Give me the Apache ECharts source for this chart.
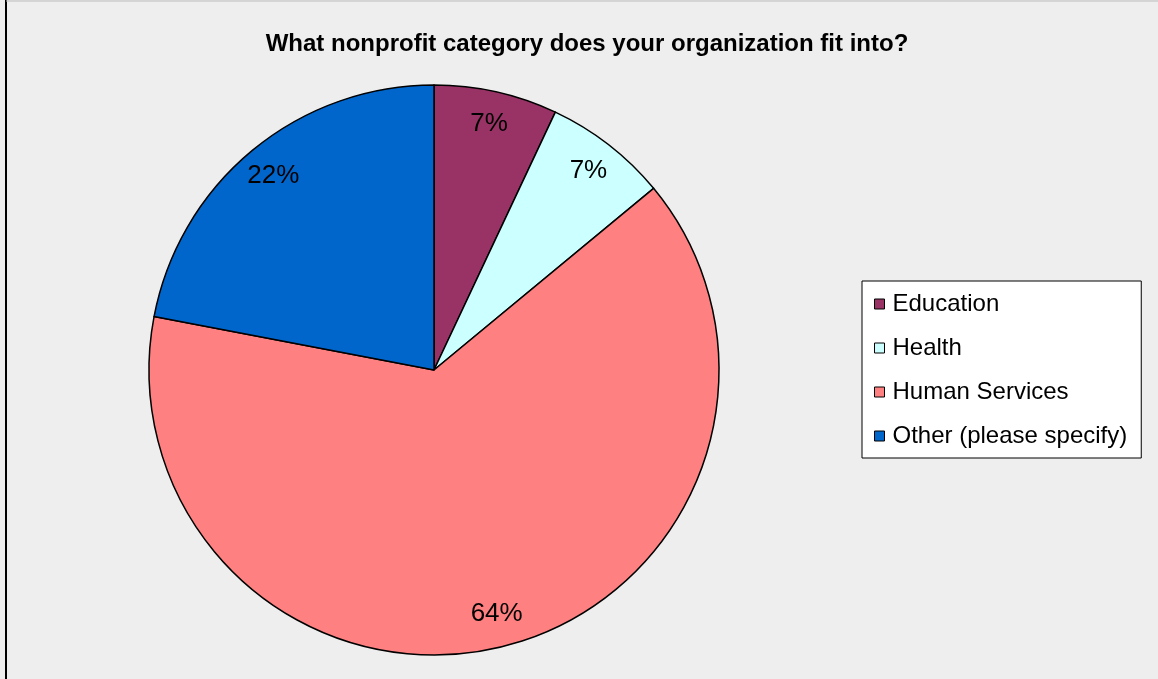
<!DOCTYPE html>
<html>
<head>
<meta charset="utf-8">
<title>Nonprofit category</title>
<script src="https://cdn.jsdelivr.net/npm/echarts@6/dist/echarts.min.js"></script>
<style>
  html, body { margin: 0; padding: 0; background: #eeeeee; }
  #chart { width: 1158px; height: 679px; }
</style>
</head>
<body>
<div id="chart"></div>
<script>
// 数据
const categories = ['Education', 'Health', 'Human Services', 'Other (please specify)']
const percents = [7, 7, 64, 22]
const colors = ['#993366', '#ccffff', '#ff8080', '#0066cc']

const pieData = categories.map((name, i) => ({
  name: name,
  value: percents[i],
  itemStyle: { color: colors[i] }
}))

const myChart = echarts.init(document.getElementById('chart'))
myChart.setOption({
  backgroundColor: '#eeeeee',
  animation: false,
  title: {
    text: 'What nonprofit category does your organization fit into?',
    left: 582,
    top: 27,
    textAlign: 'center',
    textStyle: {
      fontFamily: 'Liberation Sans',
      fontSize: 24,
      fontWeight: 'bold',
      color: '#000'
    }
  },
  legend: {
    orient: 'vertical',
    left: 862,
    top: 281,
    data: categories,
    icon: 'rect',
    itemWidth: 10,
    itemHeight: 10,
    itemGap: 20,
    padding: [11, 14, 10, 12],
    backgroundColor: '#fff',
    borderColor: '#000',
    borderWidth: 1,
    itemStyle: { borderColor: '#000', borderWidth: 1 },
    textStyle: {
      fontFamily: 'Liberation Sans',
      fontSize: 24,
      lineHeight: 22,
      color: '#000',
      padding: [0, 0, 0, 3]
    }
  },
  graphic: [
    { type: 'line', shape: { x1: 6, y1: 0, x2: 6, y2: 679 }, style: { stroke: '#000', lineWidth: 2 } },
    { type: 'line', shape: { x1: 6, y1: 1, x2: 1158, y2: 1 }, style: { stroke: '#bbb', lineWidth: 1 } }
  ],
  series: [
    {
      name: 'category',
      type: 'pie',
      center: [434, 370],
      radius: 285,
      startAngle: 90,
      clockwise: true,
      data: pieData,
      label: { show: false },
      labelLine: { show: false },
      itemStyle: { borderColor: '#000', borderWidth: 1.5 },
      emphasis: { disabled: true }
    },
    {
      // 只用来放百分比标签，靠近外圈
      name: 'labels',
      type: 'pie',
      center: [434, 370],
      radius: [213, 285],
      startAngle: 90,
      clockwise: true,
      silent: true,
      data: categories.map((name, i) => ({ name: name, value: percents[i] })),
      itemStyle: { color: 'rgba(0,0,0,0)', borderWidth: 0 },
      label: {
        show: true,
        position: 'inside',
        formatter: p => p.value + '%',
        fontFamily: 'Liberation Sans',
        fontSize: 26,
        color: '#000'
      },
      labelLine: { show: false },
      emphasis: { disabled: true }
    }
  ]
})
</script>
</body>
</html>
